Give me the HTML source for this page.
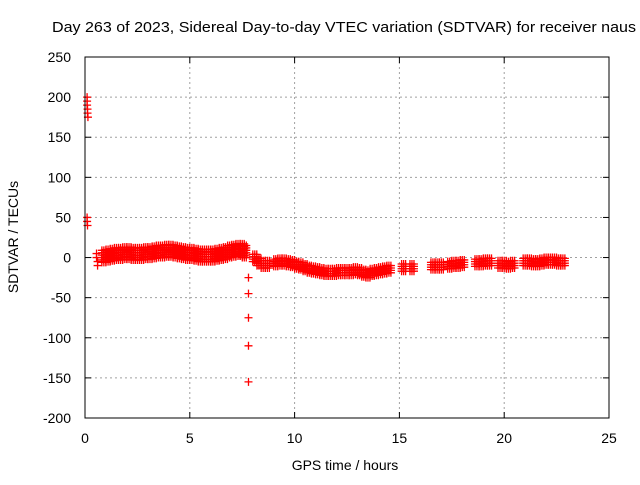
<!DOCTYPE html>
<html><head><meta charset="utf-8"><style>
body{margin:0;background:#fff}
svg text{font-family:"Liberation Sans",sans-serif;font-size:14px;fill:#000}
</style></head><body>
<svg id="chart" width="640" height="480">
<text x="52" y="32" textLength="584" lengthAdjust="spacingAndGlyphs" style="font-size:15px">Day 263 of 2023, Sidereal Day-to-day VTEC variation (SDTVAR) for receiver naus</text>
<text x="345" y="470" text-anchor="middle" style="font-size:14px">GPS time / hours</text>
<text transform="translate(18,237) rotate(-90)" text-anchor="middle" style="font-size:14px">SDTVAR / TECUs</text>
<g id="grid"></g><g id="ticks"></g><g id="marks"></g>
<rect x="85" y="57" width="524" height="361" fill="none" stroke="#000"/>
</svg>
<script>
const xTicks=[0,5,10,15,20,25];
const yTicks=[250,200,150,100,50,0,-50,-100,-150,-200];
const times=[0.1,0.1,0.1,0.12,0.12,0.14,0.1,0.1,0.12,0.55,0.55,0.6,0.6,
0.9,1.1,1.3,1.5,1.7,1.9,2.1,2.3,2.5,2.7,2.9,3.1,3.3,3.5,3.7,3.9,4.1,4.3,4.5,4.7,4.9,5.1,5.3,5.5,5.7,5.9,6.1,6.3,6.5,6.7,6.9,7.1,7.3,7.5,7.6,
7.8,7.8,7.8,7.8,7.8,
8.1,8.3,8.5,8.7,9.1,9.3,9.5,9.7,9.9,10.1,10.3,10.5,10.7,10.9,11.1,11.3,11.5,11.7,11.9,12.1,12.3,12.5,12.7,12.9,13.1,13.3,13.5,13.7,13.9,14.1,14.3,14.5,
15.2,15.6,16.6,16.8,17.0,17.4,17.6,17.8,18.0,18.7,18.9,19.1,19.3,19.8,20.0,20.2,20.4,21.0,21.2,21.4,21.6,21.8,22.0,22.2,22.4,22.6,22.8];
const values=[200,195,190,185,180,175,50,45,40,5,0,-5,-10,
2,3,4,5,5,6,6,5,5,5,6,6,7,8,8,9,9,8,7,6,5,5,4,3,3,3,3,4,5,6,8,9,10,10,8,
-25,-45,-75,-110,-155,
0,-5,-8,-8,-6,-5,-5,-6,-7,-9,-10,-12,-14,-15,-16,-17,-18,-18,-18,-17,-17,-17,-17,-16,-17,-19,-20,-18,-17,-16,-15,-14,
-12,-12,-10,-10,-10,-9,-8,-8,-7,-6,-6,-5,-5,-8,-8,-9,-8,-5,-5,-6,-6,-5,-4,-4,-4,-5,-5];
const X=t=>85+t/25*524, Y=v=>57+(250-v)/450*361;
const ns='http://www.w3.org/2000/svg';
function mk(tag,attrs,parent){const e=document.createElementNS(ns,tag);for(const k in attrs)e.setAttribute(k,attrs[k]);parent.appendChild(e);return e;}
const grid=document.getElementById('grid'),ticks=document.getElementById('ticks'),marks=document.getElementById('marks');
xTicks.forEach(t=>{const x=X(t);
 if(t>0&&t<25){const g=mk('line',{x1:x,x2:x,y1:57,y2:418,stroke:'#a0a0a0','stroke-dasharray':'2,3'},grid);
 
 }
 const l=mk('text',{x:x,y:443,'text-anchor':'middle'},ticks);l.textContent=t;
 
 
 mk('line',{x1:x,x2:x,y1:418,y2:412,stroke:'#000'},ticks);mk('line',{x1:x,x2:x,y1:57,y2:63,stroke:'#000'},ticks);});
yTicks.forEach(v=>{const y=Y(v);
 if(v<250&&v>-200){const g=mk('line',{x1:85,x2:609,y1:y,y2:y,stroke:'#a0a0a0','stroke-dasharray':'2,3'},grid);
 
 }
 const l=mk('text',{x:71,y:y+5,'text-anchor':'end'},ticks);l.textContent=v;
 
 
 mk('line',{x1:85,x2:91,y1:y,y2:y,stroke:'#000'},ticks);mk('line',{x1:609,x2:603,y1:y,y2:y,stroke:'#000'},ticks);});
times.forEach((t,i)=>{const x0=X(t);const v=values[i];
 let band=[0], dx=[0];
 if(t>0.8&&t<7.7){band=[-8,-5,-2,1,4,7];dx=[-2,0,2];}
 else if(t>8){band=[-5,-2,1,4];dx=[-2,0,2];}
 band.forEach(o=>dx.forEach(d=>{const y=Y(v+o);const x=x0+d;
 const p=mk('path',{d:`M${x-4},${y}h8M${x},${y-4}v8`,stroke:'#f00','stroke-width':1.3},marks);
 
 }));});
</script>
</body></html>
